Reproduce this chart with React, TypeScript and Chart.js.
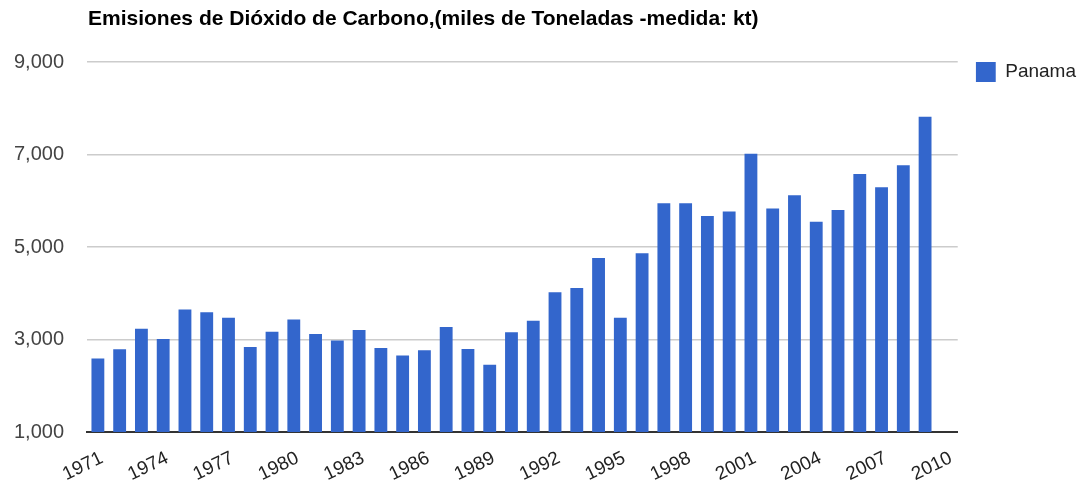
import React, { useEffect, useRef } from "react";
import { Chart, registerables } from "chart.js";

Chart.register(...registerables);

const TITLE = "Emisiones de Dióxido de Carbono,(miles de Toneladas -medida: kt)";
const SERIES_NAME = "Panama";

const years: string[] = [
  "1971", "1972", "1973", "1974", "1975", "1976", "1977", "1978", "1979", "1980",
  "1981", "1982", "1983", "1984", "1985", "1986", "1987", "1988", "1989", "1990",
  "1991", "1992", "1993", "1994", "1995", "1996", "1997", "1998", "1999", "2000",
  "2001", "2002", "2003", "2004", "2005", "2006", "2007", "2008", "2009", "2010",
];

const emissions: (number | null)[] = [
  2590, 2790, 3230, 3010, 3650, 3590, 3470, 2840, 3170, 3435,
  3120, 2980, 3205, 2815, 2655, 2765, 3270, 2795, 2455, 3155,
  3405, 4020, 4115, 4762, 3470, 4865, 5945, 5945, 5670, 5765,
  7015, 5835, 6120, 5545, 5800, 6578, 6290, 6768, 7815, null,
];

const yTicks: number[] = [1000, 3000, 5000, 7000, 9000];

const FONT = "'Liberation Sans', Arial, sans-serif";
const LEGEND_SHIFT = 18;

const titlePlugin = {
  id: "leftTitle",
  afterLayout(chart: any) {
    const lg = chart.legend;
    if (lg) {
      lg.left += LEGEND_SHIFT;
      lg.right += LEGEND_SHIFT;
    }
  },
  afterDraw(chart: any) {
    const ctx = chart.ctx;
    ctx.save();
    ctx.font = `bold 21px ${FONT}`;
    ctx.fillStyle = "#000";
    ctx.textAlign = "left";
    ctx.textBaseline = "alphabetic";
    ctx.fillText(TITLE, chart.chartArea.left + 1, 25);
    ctx.restore();
  },
};

export default function App() {
  const canvasRef = useRef<HTMLCanvasElement | null>(null);

  useEffect(() => {
    if (!canvasRef.current) return;
    const chart = new Chart(canvasRef.current, {
      type: "bar",
      data: {
        labels: years,
        datasets: [
          {
            label: SERIES_NAME,
            data: emissions,
            backgroundColor: "#3366cc",
            borderWidth: 0,
            barPercentage: 0.59,
            categoryPercentage: 1,
          },
        ],
      },
      options: {
        responsive: true,
        maintainAspectRatio: false,
        animation: false,
        layout: { padding: { top: 62, left: 0, right: LEGEND_SHIFT, bottom: 0 } },
        plugins: {
          title: { display: false },
          tooltip: { enabled: false },
          legend: {
            position: "right",
            align: "start",
            labels: {
              boxWidth: 20,
              boxHeight: 20,
              padding: 0,
              color: "#222",
              font: { family: FONT, size: 19 },
            },
          },
        },
        scales: {
          x: {
            grid: { display: false },
            border: { display: true, color: "#333", width: 2 },
            afterFit(scale: any) {
              scale.height = 56;
            },
            ticks: {
              autoSkip: false,
              maxRotation: 26,
              minRotation: 26,
              padding: 7,
              labelOffset: 4,
              color: "#222",
              font: { family: FONT, size: 19 },
              callback(_v: any, i: number) {
                return i % 3 === 0 ? years[i] : "";
              },
            },
          },
          y: {
            min: 1000,
            max: 9000,
            afterBuildTicks(scale: any) {
              scale.ticks = yTicks.map((v) => ({ value: v }));
            },
            afterFit(scale: any) {
              scale.width = 87;
            },
            grid: { color: "#cccccc", lineWidth: 1.5, drawTicks: false },
            border: { display: false },
            ticks: {
              padding: 23,
              color: "#444",
              font: { family: FONT, size: 20 },
              callback(v: any) {
                return Number(v).toLocaleString("en-US");
              },
            },
          },
        },
      },
      plugins: [titlePlugin],
    });
    return () => chart.destroy();
  }, []);

  return (
    <div style={{ position: "absolute", left: 0, top: 0, width: 1086, height: 488 }}>
      <canvas ref={canvasRef} />
    </div>
  );
}
